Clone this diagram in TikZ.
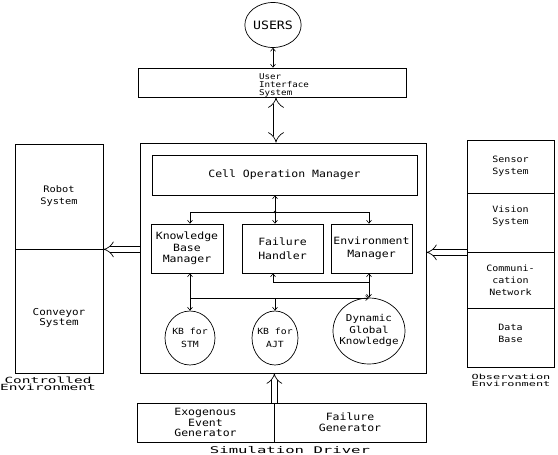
\documentclass[tikz,border=0pt]{standalone}
\usepackage{fontspec}
\newfontfamily\pf[FakeStretch=1.15]{DejaVu Sans Mono}
\newfontfamily\pw[FakeStretch=1.7]{DejaVu Sans Mono}
\usetikzlibrary{shapes.geometric,arrows.meta,calc}
\begin{document}
\begin{tikzpicture}[x=1pt,y=-1pt, line width=0.7pt,
  box/.style={draw, rectangle, inner sep=0pt, align=center},
  oval/.style={draw, ellipse, inner sep=0pt},
  thinline/.style={line width=0.6pt},
  tarrow/.style={thinline, -{Straight Barb[length=3pt,width=5pt]}},
  tarrowrev/.style={thinline, {Straight Barb[length=3pt,width=5pt]}-},
  tarrowboth/.style={thinline, {Straight Barb[length=3pt,width=5pt]}-{Straight Barb[length=3pt,width=5pt]}},
  hollow/.style={double, double distance=5pt, line width=0.7pt, -{Implies}},
  hollowboth/.style={double, double distance=5pt, line width=0.7pt, {Implies}-{Implies}},
  f8/.style={font=\pf\fontsize{8}{8}\selectfont},
  f9/.style={font=\pf\fontsize{8.7}{12}\selectfont},
  f10/.style={font=\pf\fontsize{10}{11.5}\selectfont}
]
\useasboundingbox (0,0) rectangle (558,455);

% top
\node[oval, minimum width=50pt, minimum height=45pt, font=\pf\fontsize{11.5}{12}\selectfont] (users) at (273,25) {USERS};
\node[box, minimum width=268pt, minimum height=29pt,
  label={[f8, align=left, xshift=12pt, yshift=-2.5pt]center:{User\\Interface\\System}}] (uis) at (272,82.5) {};

% main box
\node[box, minimum width=286pt, minimum height=230pt] (main) at (283,258) {};
\node[box, minimum width=265pt, minimum height=40pt, font=\pf\fontsize{10}{12}\selectfont] (com) at (284.5,175) {Cell Operation Manager};
\node[box, f10, minimum width=72pt, minimum height=49pt] (kbm) at (187,248.5) {Knowledge\\Base\\Manager};
\node[box, font=\pf\fontsize{10}{13.5}\selectfont, minimum width=81pt, minimum height=49pt] (fh) at (282.5,248.5) {Failure\\Handler};
\node[box, font=\pf\fontsize{10}{13.5}\selectfont, minimum width=81pt, minimum height=49pt] (em) at (371.5,248.5) {Environment\\Manager};

\node[oval, minimum width=50pt, minimum height=54pt, font=\pf\fontsize{8.5}{13}\selectfont] (stm) at (190,338)
  {\makebox[0pt]{\begin{tabular}{@{}c@{}}KB for\\STM\end{tabular}}};
\node[oval, minimum width=46pt, minimum height=54pt, font=\pf\fontsize{8.5}{13}\selectfont] (ajt) at (275,338)
  {\makebox[0pt]{\begin{tabular}{@{}c@{}}KB for\\AJT\end{tabular}}};
\node[oval, minimum width=72pt, minimum height=66pt, font=\pf\fontsize{9.5}{11.5}\selectfont] (dgk) at (369,331)
  {\makebox[0pt]{\begin{tabular}{@{}c@{}}Dynamic\\Global\\Knowledge\end{tabular}}};

% left
\node[box, font=\pf\fontsize{9}{12}\selectfont, minimum width=88pt, minimum height=105pt] (robot) at (59,196.5) {Robot\\System};
\node[box, minimum width=88pt, minimum height=124pt,
  label={[font=\pf\fontsize{9.5}{10.5}\selectfont, align=center, yshift=-7pt]center:{Conveyor\\System}}] (conv) at (59,311) {};
\node[font=\pw\fontsize{8.5}{7}\selectfont, align=center] (cenv) at (48,384) {Controlled\\Environment};

% right
\node[box, f9, minimum width=87pt, minimum height=53pt] (sensor) at (510.5,166.5) {Sensor\\System};
\node[box, minimum width=87pt, minimum height=59pt,
  label={[f9, align=center, yshift=6pt]center:{Vision\\System}}] (vision) at (510.5,222.5) {};
\node[box, f9, minimum width=87pt, minimum height=56pt] (comm) at (510.5,280) {Communi-\\cation\\Network};
\node[box, minimum width=87pt, minimum height=59pt,
  label={[f9, align=center, yshift=4pt]center:{Data\\Base}}] (data) at (510.5,337.5) {};
\node[font=\pw\fontsize{7}{7}\selectfont, align=center] (oenv) at (511,380.5) {Observation\\Environment};

% bottom
\node[box, font=\pf\fontsize{10}{10.5}\selectfont, minimum width=137pt, minimum height=39pt] (exo) at (205.5,422.5) {Exogenous\\Event\\Generator};
\node[box, font=\pf\fontsize{10}{11}\selectfont, minimum width=152pt, minimum height=39pt] (fg) at (350,422.5) {Failure\\Generator};
\node[font=\pw\fontsize{9.2}{10}\selectfont] (sdrv) at (290,450) {Simulation Driver};

% connectors
\draw[tarrowboth] (users.south) -- (users.south |- uis.north);
\draw[hollowboth] ([xshift=4pt]uis.south) -- ([xshift=4pt]uis.south |- main.north);
\draw[hollow] (robot.south east -| main.west) -- (robot.south east);
\draw[hollow] (vision.south west) -- (vision.south west -| main.east);
\draw[hollow] (exo.north east) -- (exo.north east |- main.south);

\coordinate (jL) at (190,212);
\coordinate (jC) at (275,212);
\coordinate (jR) at (369,212);
\draw[thinline] (jL) -- (jR);
\draw[tarrow] (jL) -- (jL |- kbm.north);
\draw[tarrow] (jC) -- (jC |- fh.north);
\draw[tarrow] (jR) -- (jR |- em.north);
\draw[tarrow] (jC) -- (jC |- com.south);
\fill (jC) circle (1.3pt);

\coordinate (bL) at (190,298);
\coordinate (bC) at (275,298);
\coordinate (fL) at (273,282);
\draw[tarrowboth] (bL |- kbm.south) -- (stm.north);
\draw[tarrow] (bL) -- (bL -| dgk.north);
\draw[tarrow] (bC) -- (ajt.north);
\draw[tarrowrev] (fL |- fh.south) -- (fL) -- (fL -| dgk.north);
\draw[tarrowboth] (em.south -| dgk.north) -- (dgk.north);
\end{tikzpicture}
\end{document}
